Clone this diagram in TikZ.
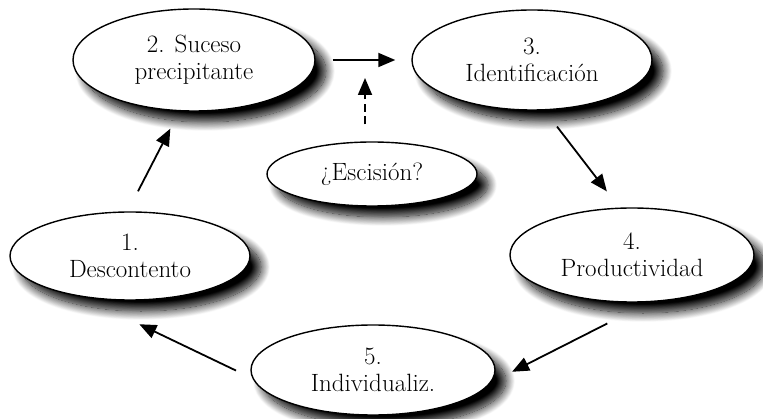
\documentclass[tikz,border=0pt]{standalone}
\usetikzlibrary{shapes.geometric,arrows.meta,shadows.blur}
\begin{document}
\begin{tikzpicture}[x=1pt,y=-1pt,
  stage/.style={ellipse, draw=black, line width=1.4pt, fill=white, inner sep=0pt,
    align=center, font=\fontsize{25}{27}\selectfont,
    blur shadow={shadow xshift=11pt, shadow yshift=-11pt, shadow blur radius=9pt,
                 shadow blur steps=16, shadow opacity=100}},
  flow/.style={line width=1.8pt, -{Triangle[length=17pt,width=14pt]}},
  maybe/.style={flow, dash pattern=on 8pt off 4.5pt},
]
\useasboundingbox (0,0) rectangle (763,419);

% the five stages of the cycle and the side question
\node[stage, minimum width=240pt, minimum height=88pt]  (n1)  at (130,256) {1.\\Descontento};
\node[stage, minimum width=242pt, minimum height=102pt] (n2)  at (194,60)  {2. Suceso\\precipitante};
\node[stage, minimum width=240pt, minimum height=100pt] (n3)  at (532,60)  {3.\\Identificación};
\node[stage, minimum width=244pt, minimum height=94pt]  (n4)  at (632,255) {4.\\Productividad};
\node[stage, minimum width=244pt, minimum height=90pt]  (n5)  at (373,370) {5.\\Individualiz.};
\node[stage, minimum width=210pt, minimum height=64pt]  (esc) at (372,174) {¿Escisión?};

% cycle arrows
\draw[flow, shorten <=22.5pt, shorten >=19.5pt] (n1.93)  -- (n2.254.5);
\draw[flow, shorten <=17pt,   shorten >=16pt]   (n2)     -- (n3);
\draw[flow, shorten <=20.4pt, shorten >=20.4pt] (n3.284) -- (n4.105);
\draw[flow, shorten <=47pt,   shorten >=23.5pt] (n4.290) -- (n5.354);
\draw[flow, shorten <=18.2pt, shorten >=62.8pt] (n5.184) -- (n1.221);

% possible split joining the step from 2 to 3
\coordinate (mid) at (365,60);
\draw[maybe, shorten <=17pt, shorten >=18pt] (esc.north -| mid) -- (mid);
\end{tikzpicture}
\end{document}
